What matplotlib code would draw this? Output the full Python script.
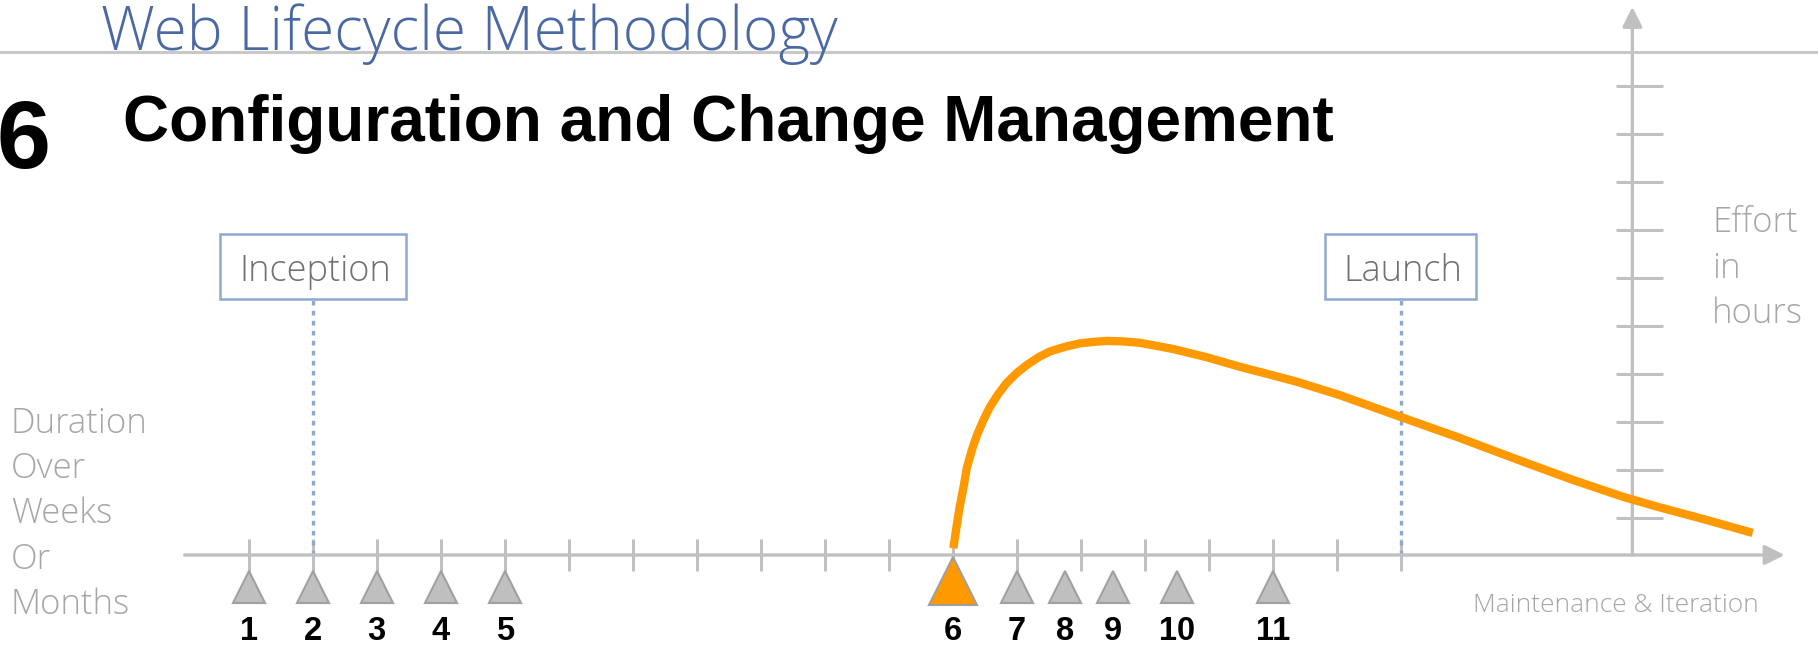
import numpy as np
import matplotlib
matplotlib.use("Agg")
import matplotlib.pyplot as plt
from matplotlib.lines import Line2D
from matplotlib.patches import Rectangle

W, H, DPI = 1818, 648, 100

HEADER = "Web Lifecycle Methodology"
STEP_NO = "6"
TITLE = "Configuration and Change Management"
LEFT_NOTE = ["Duration", "Over", "Weeks", "Or", "Months"]
RIGHT_NOTE = ["Effort", "in", "hours"]
END_NOTE = "Maintenance & Iteration"

# duration axis: one tick per period
PERIODS = np.arange(1, 20)

# milestones (triangles) along the timeline
MILESTONE_POS = [1, 2, 3, 4, 5, 12, 13, 13.75, 14.5, 15.5, 17]
MILESTONE_LABELS = ["1", "2", "3", "4", "5", "6", "7", "8", "9", "10", "11"]
CURRENT = "6"

PHASES = ["Inception", "Launch"]
PHASE_POS = [2, 19]

# effort curve (period, effort)
CURVE_X = [12.01, 12.06, 12.11, 12.17, 12.22, 12.30, 12.38, 12.48, 12.58, 12.71,
           12.84, 13.00, 13.16, 13.34, 13.52, 13.76, 13.99, 14.20, 14.41, 14.67,
           14.93, 15.45, 15.97, 16.49, 17.01, 17.35, 18.05, 18.99, 19.88, 20.92,
           21.70, 22.48, 23.00, 23.78, 24.50]
CURVE_Y = [0.14, 0.59, 1.01, 1.42, 1.81, 2.19, 2.50, 2.81, 3.08, 3.35,
           3.58, 3.79, 3.96, 4.12, 4.24, 4.34, 4.41, 4.44, 4.46, 4.45,
           4.42, 4.29, 4.12, 3.92, 3.74, 3.62, 3.33, 2.88, 2.46, 1.94,
           1.56, 1.21, 1.01, 0.73, 0.46]

EFFORT_TICKS = 0.77 + np.arange(10)
EFFORT_AXIS_AT = 22.62
EFFORT_TOP = 11.42
AXIS_END = 25.0

# pixel layout of the data frame
X0_PX, PX_P = 248.7, 64.0
Y0_PX, PX_E = 555.0, 48.0

GRID = "#c0c0c0"
BLUE_DOT = "#8ea8d0"
ORANGE = "#ff9900"
LIGHT = "#a6a6a6"
LIGHT_FONT = ["Open Sans", "DejaVu Sans"]

fig = plt.figure(figsize=(W / DPI, H / DPI), dpi=DPI)
ax = fig.add_axes([0, 0, 1, 1])
ax.set_xlim(1 - X0_PX / PX_P, 1 + (W - X0_PX) / PX_P)
ax.set_ylim((Y0_PX - H) / PX_E, Y0_PX / PX_E)
ax.axis("off")


def fx(px):
    return px / W


def fy(py):
    return 1 - py / H


# header
fig.add_artist(Line2D([0, 1], [fy(52), fy(52)], color="#c8c8c8", lw=2.2))
fig.text(fx(101), fy(50), HEADER, fontsize=43.5, color="#4a68a3",
         family=LIGHT_FONT, weight="light", va="baseline")
fig.text(fx(-3), fy(168), STEP_NO, fontsize=70, weight="bold",
         family="Liberation Sans", va="baseline")
fig.text(fx(123), fy(141), TITLE, fontsize=46, weight="bold",
         family="Liberation Sans", va="baseline")

# duration axis
ax.annotate("", xy=(AXIS_END, 0), xytext=(0, 0),
            arrowprops=dict(arrowstyle="-|>", lw=2.4, color=GRID,
                            mutation_scale=30, shrinkA=0, shrinkB=0))
ax.vlines(PERIODS, -16 / PX_E, 16 / PX_E, color=GRID, lw=2.2)

# effort axis
ax.annotate("", xy=(EFFORT_AXIS_AT, EFFORT_TOP), xytext=(EFFORT_AXIS_AT, 0),
            arrowprops=dict(arrowstyle="-|>", lw=2.4, color=GRID,
                            mutation_scale=30, shrinkA=0, shrinkB=0))
ax.hlines(EFFORT_TICKS, EFFORT_AXIS_AT - 16 / PX_P, EFFORT_AXIS_AT + 31 / PX_P,
          color=GRID, lw=2.2)

# phase boxes with dotted drop lines
BOX_W = [2.9, 2.36]
BOX_BOTTOM, BOX_H = 5.33, 1.36
for name, pos, bw in zip(PHASES, PHASE_POS, BOX_W):
    ax.plot([pos, pos], [0, BOX_BOTTOM], color=BLUE_DOT, lw=2.4,
            linestyle=(0, (1.4, 1.6)), zorder=2)
    ax.add_patch(Rectangle((pos - bw / 2, BOX_BOTTOM), bw, BOX_H,
                           facecolor="white", edgecolor=BLUE_DOT, lw=1.8, zorder=3))
    ax.text(pos + 0.04, BOX_BOTTOM + BOX_H / 2 - 0.1, name, ha="center", va="center",
            fontsize=26, color="#707070", family=LIGHT_FONT, weight="light", zorder=4)

# effort curve
ax.plot(CURVE_X, CURVE_Y, color=ORANGE, lw=6, solid_capstyle="butt",
        solid_joinstyle="round", zorder=5)

# milestones
for pos, lab in zip(MILESTONE_POS, MILESTONE_LABELS):
    big = lab == CURRENT
    ax.plot(pos, -0.54 if big else -0.675, marker="^",
            markersize=34 if big else 23.5,
            markerfacecolor=ORANGE if big else "#bfbfbf",
            markeredgecolor="#a0a0a0", markeredgewidth=1.5, zorder=6)
    ax.text(pos, (Y0_PX - 647) / PX_E, lab, ha="center", va="bottom",
            fontsize=23.5, weight="bold", family="Liberation Sans")

# side notes
for i, line in enumerate(LEFT_NOTE):
    fig.text(fx(11), fy(433 + i * 45.2), line, fontsize=25, color=LIGHT,
             family=LIGHT_FONT, weight="light", va="baseline")
for i, line in enumerate(RIGHT_NOTE):
    fig.text(fx(1712), fy(232 + i * 45.5), line, fontsize=25, color=LIGHT,
             family=LIGHT_FONT, weight="light", va="baseline")
fig.text(fx(1473), fy(612), END_NOTE, fontsize=19, color=LIGHT,
         family=LIGHT_FONT, weight="light", va="baseline")

fig.savefig("out.png", dpi=DPI)
